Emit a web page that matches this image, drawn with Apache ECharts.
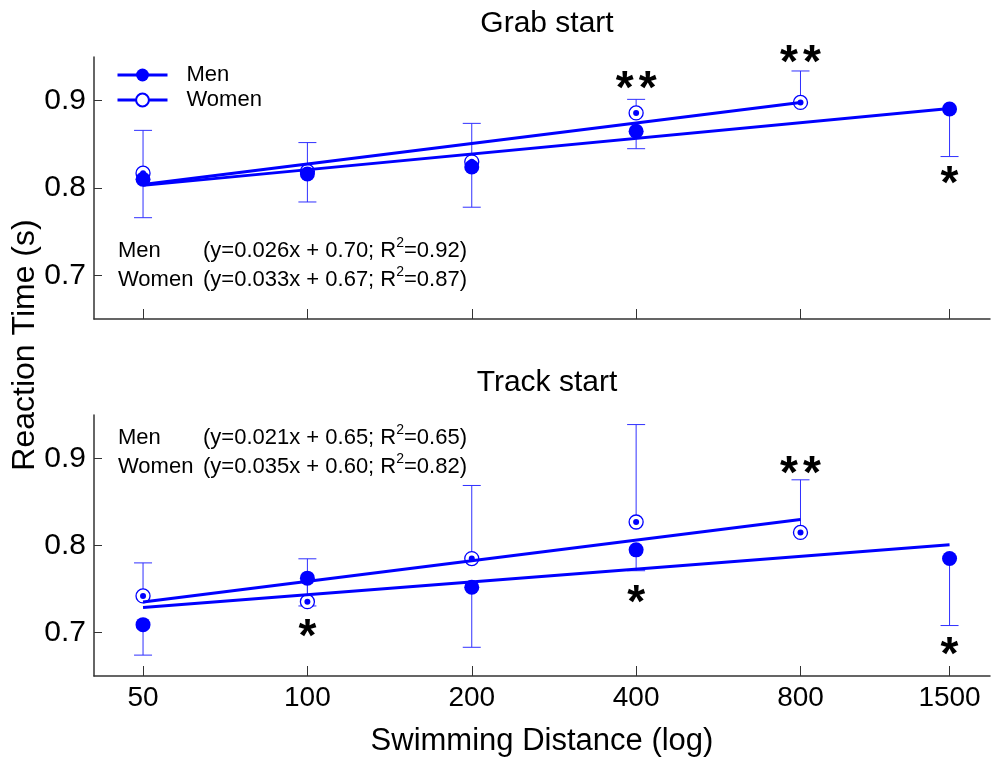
<!DOCTYPE html>
<html>
<head>
<meta charset="utf-8">
<script src="https://cdn.jsdelivr.net/npm/echarts@6/dist/echarts.min.js"></script>
<style>
html, body { margin: 0; padding: 0; background: #fff; }
#chart { width: 991px; height: 758px; }
</style>
</head>
<body>
<div id="chart"></div>
<script>
/*---------------- data ----------------*/
var distances = [50, 100, 200, 400, 800, 1500];
var yTicks = [0.7, 0.8, 0.9];

// Grab start: men bars go down, women bars go up
var grabMen = [0.810, 0.816, 0.824, 0.865, null, 0.8905];
var grabMenErr = [0.766, 0.784, 0.778, 0.845, null, 0.836];
var grabWomen = [0.817, 0.819, 0.830, 0.886, 0.898, null];
var grabWomenErr = [0.866, 0.852, 0.874, 0.9015, 0.934, null];
var grabMenFit = [[50, 0.803], [1500, 0.891]];
var grabWomenFit = [[50, 0.804], [800, 0.898]];
var grabStars = [[400, 0.923, '**'], [800, 0.953, '**'], [1500, 0.815, '*']];
var grabEq = ['(y=0.026x + 0.70; R{s|2}=0.92)', '(y=0.033x + 0.67; R{s|2}=0.87)'];

// Track start
var trackMen = [0.709, 0.7625, 0.752, 0.795, null, 0.785];
var trackMenErr = [0.674, 0.7305, 0.683, 0.771, null, 0.708];
var trackWomen = [0.742, 0.7354, 0.785, 0.827, 0.815, null];
var trackWomenErr = [0.780, 0.7847, 0.869, 0.939, 0.8755, null];
var trackMenFit = [[50, 0.7286], [1500, 0.801]];
var trackWomenFit = [[50, 0.735], [800, 0.830]];
var trackStars = [[100, 0.705, '*'], [400, 0.7444, '*'], [800, 0.8924, '**'], [1500, 0.6845, '*']];
var trackEq = ['(y=0.021x + 0.65; R{s|2}=0.65)', '(y=0.035x + 0.60; R{s|2}=0.82)'];

/*---------------- helpers ----------------*/
var FONT = '"Liberation Sans", Arial, sans-serif';
var BLUE = '#0000ff';
var BAR = '#3030ff';
var AXIS = '#333';

function pts(vals) {
    var out = [];
    for (var i = 0; i < distances.length; i++) {
        if (vals[i] != null) out.push([distances[i], vals[i]]);
    }
    return out;
}

function bars(vals, ends) {
    var out = [];
    for (var i = 0; i < distances.length; i++) {
        if (vals[i] != null && ends[i] != null) out.push([distances[i], vals[i], ends[i]]);
    }
    return out;
}

function errSeries(idx, vals, ends) {
    return {
        type: 'custom', xAxisIndex: idx, yAxisIndex: idx, silent: true, z: 1,
        data: bars(vals, ends),
        renderItem: function (params, api) {
            var p0 = api.coord([api.value(0), api.value(1)]);
            var p1 = api.coord([api.value(0), api.value(2)]);
            return {
                type: 'group', children: [
                    { type: 'line', shape: { x1: p0[0], y1: p0[1], x2: p1[0], y2: p1[1] }, style: { stroke: BAR, lineWidth: 1 } },
                    { type: 'line', shape: { x1: p1[0] - 9, y1: p1[1], x2: p1[0] + 9, y2: p1[1] }, style: { stroke: BAR, lineWidth: 1 } }
                ]
            };
        }
    };
}

function starSeries(idx, stars) {
    return {
        type: 'custom', xAxisIndex: idx, yAxisIndex: idx, silent: true, z: 5,
        data: stars,
        renderItem: function (params, api) {
            var p = api.coord([api.value(0), api.value(1)]);
            var n = stars[params.dataIndex][2].length;
            var kids = [];
            for (var k = 0; k < n; k++) {
                kids.push({
                    type: 'text',
                    x: p[0] + (k - (n - 1) / 2) * 23,
                    y: p[1] + 10,
                    style: { text: '*', font: 'bold 46px ' + FONT, fill: '#000', align: 'center', verticalAlign: 'middle' }
                });
            }
            return { type: 'group', children: kids };
        }
    };
}

function panelSeries(idx, men, menErr, women, womenErr, menFit, womenFit, stars) {
    return [
        errSeries(idx, men, menErr),
        errSeries(idx, women, womenErr),
        {
            type: 'scatter', xAxisIndex: idx, yAxisIndex: idx, silent: true, z: 2,
            symbol: 'circle', symbolSize: 14,
            itemStyle: { color: '#fff', borderColor: BLUE, borderWidth: 1.3, opacity: 1 },
            data: pts(women)
        },
        {
            type: 'scatter', xAxisIndex: idx, yAxisIndex: idx, silent: true, z: 3,
            symbol: 'circle', symbolSize: 15,
            itemStyle: { color: BLUE, opacity: 1 },
            data: pts(men)
        },
        {
            type: 'scatter', xAxisIndex: idx, yAxisIndex: idx, silent: true, z: 4,
            symbol: 'circle', symbolSize: 6,
            itemStyle: { color: BLUE, opacity: 1 },
            data: pts(women)
        },
        {
            name: 'Men', type: 'line', xAxisIndex: idx, yAxisIndex: idx, z: 3,
            symbol: 'circle', symbolSize: 13, showSymbol: false, silent: true,
            itemStyle: { color: BLUE },
            lineStyle: { color: BLUE, width: 3 },
            data: menFit
        },
        {
            name: 'Women', type: 'line', xAxisIndex: idx, yAxisIndex: idx, z: 3,
            symbol: 'emptyCircle', symbolSize: 13, showSymbol: false, silent: true,
            itemStyle: { color: BLUE },
            lineStyle: { color: BLUE, width: 3 },
            data: womenFit
        },
        starSeries(idx, stars)
    ];
}

function xAxisOf(idx, showLabels) {
    var ax = {
        type: 'log', gridIndex: idx, min: 40.66, max: 1779, logBase: 2,
        axisLine: { onZero: false, lineStyle: { color: AXIS, width: 1.5 } },
        axisTick: { inside: true, length: 10, customValues: distances, lineStyle: { color: AXIS, width: 1 } },
        axisLabel: {
            show: showLabels, customValues: distances, margin: 8,
            fontSize: 28, fontFamily: FONT, color: '#000',
            formatter: function (v) { return String(Math.round(v)); }
        },
        splitLine: { show: false },
        minorTick: { show: false }
    };
    if (showLabels) {
        ax.name = 'Swimming Distance (log)';
        ax.nameLocation = 'middle';
        ax.nameGap = 50;
        ax.nameTextStyle = { fontSize: 31, fontFamily: FONT, color: '#000' };
    }
    return ax;
}

function yAxisOf(idx) {
    return {
        type: 'value', gridIndex: idx, min: 0.65, max: 0.95,
        axisLine: { show: true, lineStyle: { color: AXIS, width: 1.5 } },
        axisTick: { show: true, inside: true, length: 8, customValues: yTicks, lineStyle: { color: AXIS, width: 1 } },
        axisLabel: {
            customValues: yTicks, margin: 8,
            fontSize: 30, fontFamily: FONT, color: '#000',
            formatter: function (v) { return v.toFixed(1); }
        },
        splitLine: { show: false }
    };
}

function eqGraphics(top, eqs) {
    var rich = { s: { fontSize: 14, fontFamily: FONT, verticalAlign: 'top', lineHeight: 14 } };
    var names = ['Men', 'Women'];
    var out = [];
    for (var i = 0; i < 2; i++) {
        out.push({
            type: 'text', x: 118, y: top + i * 29,
            style: { text: names[i], font: '22px ' + FONT, fill: '#000', verticalAlign: 'middle' }
        });
        out.push({
            type: 'text', x: 203, y: top + i * 29,
            style: { text: eqs[i], font: '22px ' + FONT, fill: '#000', verticalAlign: 'middle', lineHeight: 30, rich: rich }
        });
    }
    return out;
}

/*---------------- chart ----------------*/
var chart = echarts.init(document.getElementById('chart'));

var option = {
    animation: false,
    backgroundColor: '#fff',
    title: [
        { text: 'Grab start', left: 542, top: 4, textAlign: 'center',
          textStyle: { fontSize: 30, fontWeight: 'normal', fontFamily: FONT, color: '#000' } },
        { text: 'Track start', left: 542, top: 363, textAlign: 'center',
          textStyle: { fontSize: 30, fontWeight: 'normal', fontFamily: FONT, color: '#000' } }
    ],
    legend: {
        data: ['Men', 'Women'],
        orient: 'vertical', left: 116, top: 64, padding: 0,
        itemWidth: 50, itemHeight: 16, itemGap: 3,
        lineStyle: { width: 3 },
        textStyle: { fontSize: 22, lineHeight: 22, fontFamily: FONT, color: '#000', padding: [0, 0, 0, 14] },
        selectedMode: false
    },
    grid: [
        { left: 94, right: 1, top: 57, height: 262 },
        { left: 94, right: 1, top: 415, height: 265 }
    ],
    xAxis: [xAxisOf(0, false), xAxisOf(1, true)],
    yAxis: [yAxisOf(0), yAxisOf(1)],
    graphic: [
        { type: 'text', x: 25, y: 345, rotation: Math.PI / 2,
          style: { text: 'Reaction Time (s)', font: '32px ' + FONT, fill: '#000', align: 'center', verticalAlign: 'middle' } }
    ].concat(eqGraphics(251, grabEq), eqGraphics(438, trackEq)),
    series: [].concat(
        panelSeries(0, grabMen, grabMenErr, grabWomen, grabWomenErr, grabMenFit, grabWomenFit, grabStars),
        panelSeries(1, trackMen, trackMenErr, trackWomen, trackWomenErr, trackMenFit, trackWomenFit, trackStars)
    )
};

chart.setOption(option);
</script>
</body>
</html>
